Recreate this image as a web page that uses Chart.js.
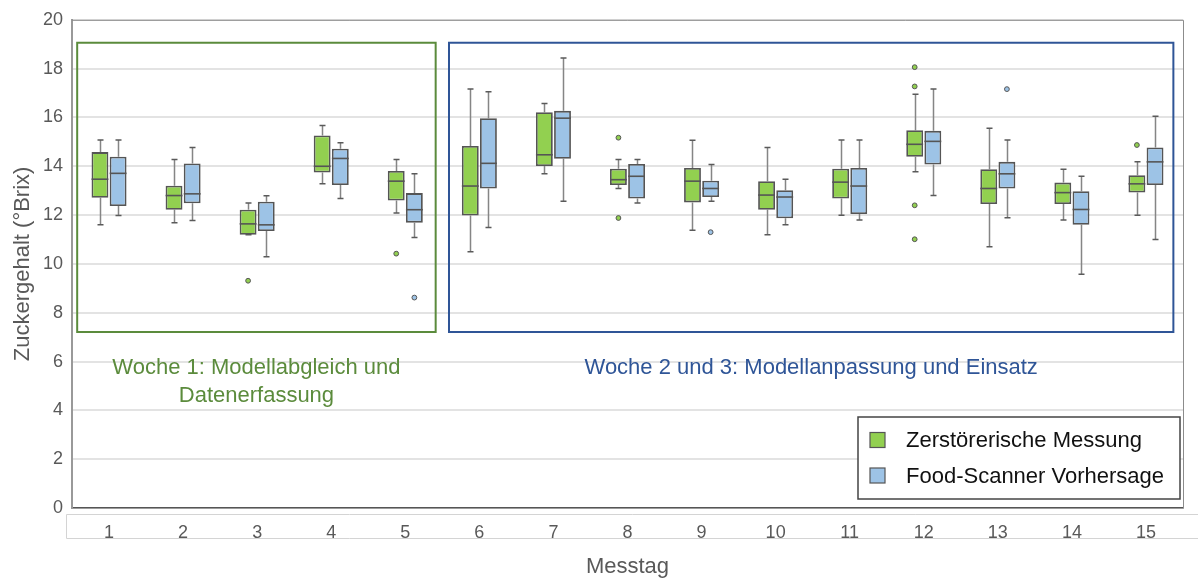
<!DOCTYPE html>
<html>
<head>
<meta charset="utf-8">
<script src="https://cdn.jsdelivr.net/npm/chart.js@4.4.1/dist/chart.umd.min.js"></script>
<style>
  html, body { margin: 0; padding: 0; background: #fff; }
  #wrap { width: 1198px; height: 578px; }
</style>
</head>
<body>
<div id="wrap"><canvas id="c" width="1198" height="578"></canvas></div>
<script>
// Measurement days
const days = ['1','2','3','4','5','6','7','8','9','10','11','12','13','14','15'];
const yTicks = [0, 2, 4, 6, 8, 10, 12, 14, 16, 18, 20];

// Zerstörerische Messung (°Brix) – five-number summary per day
const destMin = [11.6, 11.69, 11.19, 13.28, 12.09, 10.5, 13.69, 13.09, 11.38, 11.19, 11.99, 13.77, 10.7, 11.8, 11.99];
const destQ1  = [12.71, 12.22, 11.19, 13.74, 12.6, 11.98, 14.01, 13.23, 12.52, 12.22, 12.68, 14.39, 12.45, 12.45, 12.92];
const destMed = [13.47, 12.8, 11.64, 14.0, 13.39, 13.19, 14.47, 13.45, 13.39, 12.82, 13.35, 14.9, 13.09, 12.92, 13.28];
const destQ3  = [14.58, 13.2, 12.22, 15.26, 13.81, 14.83, 16.21, 13.9, 13.93, 13.39, 13.9, 15.48, 13.88, 13.33, 13.63];
const destMax = [15.08, 14.28, 12.49, 15.67, 14.28, 17.16, 16.57, 14.28, 15.07, 14.77, 15.08, 16.95, 15.56, 13.88, 14.18];
const destOut = [[], [], [9.31], [], [10.42], [], [], [15.17, 11.88], [], [], [], [18.06, 17.27, 12.4, 11.01], [], [], [14.87]];

// Food-Scanner Vorhersage (°Brix)
const scanMin = [11.98, 11.78, 10.29, 12.68, 11.08, 11.49, 12.57, 12.49, 12.57, 11.6, 11.8, 12.8, 11.89, 9.58, 11.0];
const scanQ1  = [12.37, 12.48, 11.35, 13.23, 11.69, 13.09, 14.31, 12.68, 12.74, 11.87, 12.04, 14.07, 13.09, 11.6, 13.23];
const scanMed = [13.71, 12.87, 11.6, 14.32, 12.22, 14.12, 15.97, 13.59, 13.09, 12.74, 13.19, 15.02, 13.69, 12.23, 14.18];
const scanQ3  = [14.39, 14.11, 12.55, 14.72, 12.9, 15.97, 16.27, 14.09, 13.41, 13.02, 13.93, 15.45, 14.18, 12.98, 14.77];
const scanMax = [15.08, 14.77, 12.79, 14.96, 13.69, 17.05, 18.44, 14.28, 14.07, 13.47, 15.08, 17.16, 15.08, 13.59, 16.05];
const scanOut = [[], [], [], [], [8.62], [], [], [], [11.3], [], [], [], [17.16], [], []];

// Study phases: day-index range and value range of the framed region
const phaseLabels = [['Woche 1: Modellabgleich und', 'Datenerfassung'], ['Woche 2 und 3: Modellanpassung und Einsatz']];
const phaseFrom = [-0.43, 4.59];
const phaseTo = [4.41, 14.37];
const phaseTop = [19.06, 19.06];
const phaseBottom = [7.21, 7.21];

const FONT = "'Liberation Sans', Arial, sans-serif";
const GREEN = '#92d050', BLUE = '#9dc3e6';
const phaseColors = ['#5b8b3c', '#2f5597'];

const stats = [
  { min: destMin, med: destMed, max: destMax, out: destOut, fill: GREEN },
  { min: scanMin, med: scanMed, max: scanMax, out: scanOut, fill: BLUE }
];

const boxPlugin = {
  id: 'boxWhiskers',
  beforeDatasetsDraw(chart) {
    const { ctx, chartArea: a, scales: { x, y } } = chart;
    ctx.save();
    // plot frame (top / right)
    ctx.strokeStyle = '#8c8c8c';
    ctx.lineWidth = 1;
    ctx.beginPath();
    ctx.moveTo(a.left, a.top + 0.5); ctx.lineTo(a.right + 0.5, a.top + 0.5); ctx.lineTo(a.right + 0.5, a.bottom);
    ctx.stroke();

    // phase frames and captions
    phaseLabels.forEach((lines, i) => {
      const x0 = x.getPixelForValue(phaseFrom[i]);
      const x1 = x.getPixelForValue(phaseTo[i]);
      const y0 = y.getPixelForValue(phaseTop[i]);
      const y1 = y.getPixelForValue(phaseBottom[i]);
      ctx.strokeStyle = phaseColors[i];
      ctx.lineWidth = 2;
      ctx.strokeRect(x0, y0, x1 - x0, y1 - y0);
      ctx.fillStyle = phaseColors[i];
      ctx.font = '22px ' + FONT;
      ctx.textAlign = 'center';
      ctx.textBaseline = 'alphabetic';
      const cx = (x0 + x1) / 2;
      lines.forEach((t, k) => ctx.fillText(t, cx, y1 + 42 + k * 27.5));
    });

    // whiskers
    chart.data.datasets.forEach((ds, d) => {
      const s = stats[d];
      chart.getDatasetMeta(d).data.forEach((el, i) => {
        const q1 = ds.data[i][0], q3 = ds.data[i][1];
        const px = Math.round(el.x) + 0.5;
        ctx.strokeStyle = '#858585';
        ctx.lineWidth = 1.5;
        ctx.beginPath();
        ctx.moveTo(px, y.getPixelForValue(q3)); ctx.lineTo(px, y.getPixelForValue(s.max[i]));
        ctx.moveTo(px, y.getPixelForValue(q1)); ctx.lineTo(px, y.getPixelForValue(s.min[i]));
        ctx.stroke();
        ctx.strokeStyle = '#5a5a5a';
        ctx.beginPath();
        [s.max[i], s.min[i]].forEach(v => {
          const py = y.getPixelForValue(v);
          ctx.moveTo(px - 3, py); ctx.lineTo(px + 3, py);
        });
        ctx.stroke();
      });
    });
    ctx.restore();
  },
  afterDatasetsDraw(chart) {
    const { ctx, scales: { y } } = chart;
    ctx.save();
    chart.data.datasets.forEach((ds, d) => {
      const s = stats[d];
      chart.getDatasetMeta(d).data.forEach((el, i) => {
        const py = y.getPixelForValue(s.med[i]);
        ctx.strokeStyle = '#555';
        ctx.lineWidth = 1.6;
        ctx.beginPath();
        ctx.moveTo(el.x - el.width / 2, py); ctx.lineTo(el.x + el.width / 2, py);
        ctx.stroke();
        s.out[i].forEach(v => {
          ctx.beginPath();
          ctx.arc(el.x, y.getPixelForValue(v), 2.4, 0, Math.PI * 2);
          ctx.fillStyle = s.fill;
          ctx.fill();
          ctx.lineWidth = 1;
          ctx.strokeStyle = '#555';
          ctx.stroke();
        });
      });
    });
    ctx.restore();
  },
  afterDraw(chart) {
    const { ctx, chartArea: a, width } = chart;
    ctx.save();
    // label band under the x axis
    ctx.strokeStyle = '#d4d4d4';
    ctx.lineWidth = 1;
    ctx.beginPath();
    ctx.moveTo(width, a.bottom + 6.5); ctx.lineTo(a.left - 5.5, a.bottom + 6.5);
    ctx.lineTo(a.left - 5.5, a.bottom + 30.5); ctx.lineTo(width, a.bottom + 30.5);
    ctx.stroke();

    // legend
    const lx = a.right - 325, ly = a.bottom - 91, lw = 322, lh = 82;
    ctx.fillStyle = '#fff';
    ctx.fillRect(lx, ly, lw, lh);
    ctx.strokeStyle = '#444';
    ctx.lineWidth = 1.5;
    ctx.strokeRect(lx, ly, lw, lh);
    ctx.font = '22px ' + FONT;
    ctx.textAlign = 'left';
    ctx.textBaseline = 'middle';
    chart.data.datasets.forEach((ds, d) => {
      const cy = ly + 23 + d * 35.5;
      ctx.fillStyle = ds.backgroundColor;
      ctx.fillRect(lx + 12, cy - 7.5, 15, 15);
      ctx.strokeStyle = '#555';
      ctx.lineWidth = 1.2;
      ctx.strokeRect(lx + 12, cy - 7.5, 15, 15);
      ctx.fillStyle = '#111';
      ctx.fillText(ds.label, lx + 48, cy + 1);
    });
    ctx.restore();
  }
};

new Chart(document.getElementById('c'), {
  type: 'bar',
  data: {
    labels: days,
    datasets: [
      {
        label: 'Zerstörerische Messung',
        data: destQ1.map((q, i) => [q, destQ3[i]]),
        backgroundColor: GREEN,
        borderColor: '#555',
        borderWidth: 1.8,
        borderSkipped: false,
        categoryPercentage: 0.49,
        barPercentage: 0.93
      },
      {
        label: 'Food-Scanner Vorhersage',
        data: scanQ1.map((q, i) => [q, scanQ3[i]]),
        backgroundColor: BLUE,
        borderColor: '#555',
        borderWidth: 1.8,
        borderSkipped: false,
        categoryPercentage: 0.49,
        barPercentage: 0.93
      }
    ]
  },
  options: {
    responsive: false,
    animation: false,
    layout: { padding: { top: 17, right: 15, left: 0, bottom: 0 } },
    plugins: { legend: { display: false }, tooltip: { enabled: false } },
    scales: {
      x: {
        offset: true,
        grid: { display: false, drawTicks: false },
        border: { display: true, color: '#555', width: 1.5 },
        ticks: { font: { family: FONT, size: 18 }, color: '#595959', padding: 14, autoSkip: false, maxRotation: 0 },
        title: { display: true, text: 'Messtag', font: { family: FONT, size: 22 }, color: '#595959', padding: { top: 0, bottom: -2 } },
        afterFit(s) { s.height = 70; }
      },
      y: {
        min: 0,
        max: 20,
        afterBuildTicks(s) { s.ticks = yTicks.map(v => ({ value: v })); },
        ticks: { font: { family: FONT, size: 18 }, color: '#595959', padding: 9 },
        grid: { color: '#e3e3e3', lineWidth: 2, drawTicks: false },
        border: { display: true, color: '#999', width: 2 },
        title: { display: true, text: 'Zuckergehalt (°Brix)', font: { family: FONT, size: 22 }, color: '#595959', padding: { top: 10, bottom: 0 } },
        afterFit(s) { s.width = 72; }
      }
    }
  },
  plugins: [boxPlugin]
});
</script>
</body>
</html>
